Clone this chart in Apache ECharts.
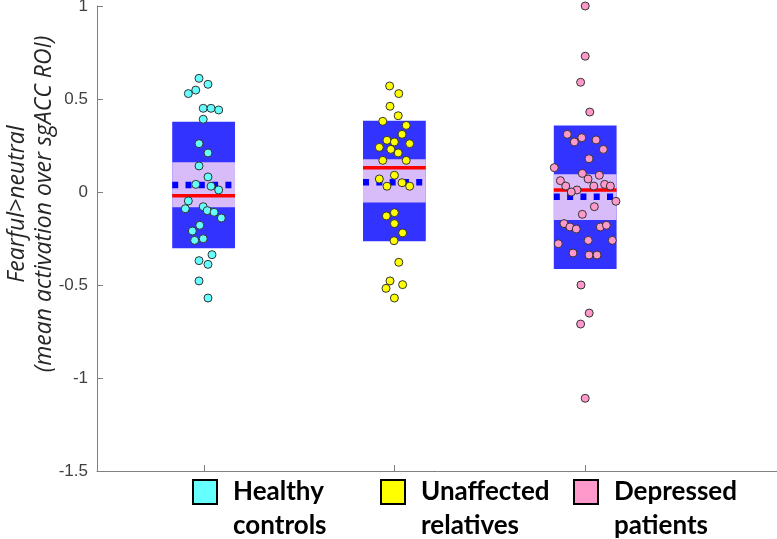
<!DOCTYPE html>
<html>
<head>
<meta charset="utf-8">
<script src="https://cdn.jsdelivr.net/npm/echarts@6/dist/echarts.min.js"></script>
<style>
html,body{margin:0;padding:0;background:#fff;overflow:hidden;}
#chart{width:777px;height:539px;}
</style>
</head>
<body>
<div id="chart"></div>
<script>
// ---- data ----
const groupNames = ['Healthy\ncontrols', 'Unaffected\nrelatives', 'Depressed\npatients'];
const groupColors = ['#66FFFF', '#FFFF00', '#FF99CC'];
const yTicks = [-1.5, -1, -0.5, 0, 0.5, 1];

// summary statistics per group: [sdLow, sdHigh, semLow, semHigh, mean, median]
const sdLow   = [-0.303, -0.265, -0.414];
const sdHigh  = [0.378, 0.383, 0.358];
const semLow  = [-0.082, -0.057, -0.150];
const semHigh = [0.160, 0.176, 0.095];
const means   = [-0.020, 0.131, 0.011];
const medians = [0.038, 0.052, -0.025];

// individual values
const healthyVals = [0.611,0.579,0.548,0.529,0.45,0.45,0.441,0.391,0.26,0.21,0.14,0.081,0.041,0.031,0.011,-0.048,-0.09,-0.079,-0.1,-0.109,-0.14,-0.179,-0.21,-0.26,-0.251,-0.337,-0.369,-0.389,-0.478,-0.57];
const healthyJit  = [-0.024,0.023,-0.041,-0.080,-0.002,0.039,0.079,-0.002,-0.024,0.023,-0.024,0.023,-0.041,0.039,0.079,-0.080,-0.096,-0.002,0.019,0.055,0.093,-0.020,-0.059,-0.047,-0.002,0.044,-0.024,0.023,-0.024,0.023];

const relativeVals = [0.57,0.529,0.461,0.41,0.38,0.358,0.31,0.278,0.269,0.26,0.24,0.229,0.21,0.17,0.17,0.09,0.07,0.05,0.031,0.031,-0.129,-0.111,-0.17,-0.22,-0.262,-0.378,-0.478,-0.498,-0.518,-0.57];
const relativeJit  = [-0.025,0.023,-0.023,0.020,-0.061,0.062,0.040,-0.039,0.000,0.080,-0.079,-0.019,0.020,-0.061,0.062,0.000,-0.079,0.040,-0.039,0.080,-0.042,0.000,0.000,0.043,-0.002,0.023,-0.023,0.043,-0.044,0.000];

const patientVals = [1.0,0.73,0.59,0.43,0.31,0.292,0.269,0.28,0.229,0.179,0.131,0.1,0.09,0.061,0.07,0.032,0.032,0.041,0.032,0.011,0.0,-0.05,-0.079,-0.12,-0.17,-0.188,-0.199,-0.188,-0.179,-0.278,-0.26,-0.26,-0.328,-0.339,-0.339,-0.5,-0.651,-0.71,-1.109];
const patientJit  = [0.000,0.000,-0.024,0.024,-0.094,-0.018,-0.057,0.057,0.095,0.020,-0.162,-0.015,0.074,-0.130,0.015,-0.102,0.045,0.102,0.132,-0.043,-0.073,0.161,0.048,-0.015,-0.111,-0.080,-0.047,0.079,0.111,-0.141,0.016,0.142,-0.064,0.020,0.062,-0.022,0.021,-0.024,0.000];

// ---- build ----
const groupVals = [healthyVals, relativeVals, patientVals];
const groupJit = [healthyJit, relativeJit, patientJit];
const boxHalf = 0.1645;
const yMin = yTicks[0], yMax = yTicks[yTicks.length - 1];

const boxData = groupNames.map((n, i) => [i + 1, sdLow[i], sdHigh[i], semLow[i], semHigh[i], means[i], medians[i]]);

function renderBox(params, api) {
  const x = api.value(0);
  const l = api.coord([x - boxHalf, 0])[0];
  const r = api.coord([x + boxHalf, 0])[0];
  const cx = api.coord([x, 0])[0];
  const y = v => api.coord([x, v])[1];
  const sdT = y(api.value(2)), sdB = y(api.value(1));
  const seT = y(api.value(4)), seB = y(api.value(3));
  const mY = y(api.value(5)), mdY = y(api.value(6));
  const axisY = y(yMin);
  const tx = Math.round(cx) + 0.5;
  return {
    type: 'group',
    children: [
      { type: 'rect', shape: { x: l, y: sdT, width: r - l, height: sdB - sdT }, style: { fill: '#3333FF' } },
      { type: 'rect', shape: { x: l, y: seT, width: r - l, height: seB - seT }, style: { fill: '#D7BCF9' } },
      { type: 'line', shape: { x1: l, y1: mY, x2: r, y2: mY }, style: { stroke: '#FF0000', lineWidth: 3.5 } },
      { type: 'line', shape: { x1: l, y1: mdY, x2: r, y2: mdY }, style: { stroke: '#0000FF', lineWidth: 6.5, lineDash: [6, 7.3] } },
      // category tick on the x axis
      { type: 'line', shape: { x1: tx, y1: axisY, x2: tx, y2: axisY - 6 }, style: { stroke: '#808080', lineWidth: 1 } }
    ]
  };
}

const scatterSeries = groupVals.map((vals, g) => ({
  type: 'scatter',
  name: groupNames[g],
  data: vals.map((v, k) => [g + 1 + groupJit[g][k], v]),
  symbolSize: 8,
  itemStyle: { color: groupColors[g], borderColor: '#333333', borderWidth: 1, opacity: 1 },
  z: 5,
  silent: true
}));

// legend (drawn as graphic elements)
const legendLeft = [192, 380, 573];
const legendGraphics = [];
groupNames.forEach((n, i) => {
  legendGraphics.push({
    type: 'rect', left: legendLeft[i], top: 479,
    shape: { width: 24, height: 24 },
    style: { fill: groupColors[i], stroke: '#000', lineWidth: 2 }
  });
  legendGraphics.push({
    type: 'text', left: legendLeft[i] + 41, top: 475,
    style: { text: n, font: 'bold 26px Lato', fill: '#000', lineHeight: 34 }
  });
});

const chart = echarts.init(document.getElementById('chart'), null, { renderer: 'canvas' });
chart.setOption({
  animation: false,
  backgroundColor: '#fff',
  grid: { left: 97, width: 682, top: 6, height: 465, containLabel: false, outerBoundsMode: 'none' },
  xAxis: {
    type: 'value', min: 0.4413, max: 4.0157,
    axisLine: { show: true, onZero: false, lineStyle: { color: '#808080', width: 1 } },
    axisTick: { show: false },
    axisLabel: { show: false },
    splitLine: { show: false }
  },
  yAxis: {
    type: 'value', min: yMin, max: yMax, interval: 0.5,
    axisLine: { show: true, onZero: false, lineStyle: { color: '#808080', width: 1 } },
    axisTick: { show: true, inside: true, length: 6, lineStyle: { color: '#808080' } },
    axisLabel: { color: '#404040', fontSize: 17, fontFamily: 'Liberation Sans, Arial', margin: 9 },
    splitLine: { show: false }
  },
  graphic: [
    {
      type: 'text', x: 31, y: 204, rotation: Math.PI / 2,
      style: {
        text: 'Fearful>neutral\n(mean activation over sgACC ROI)',
        font: 'italic 23px "Open Sans"', fill: '#262626',
        align: 'center', verticalAlign: 'middle', lineHeight: 27
      }
    }
  ].concat(legendGraphics),
  series: [
    { type: 'custom', renderItem: renderBox, data: boxData, z: 2, silent: true, clip: false,
      encode: { x: 0, y: [1, 2] } }
  ].concat(scatterSeries)
});
</script>
</body>
</html>
